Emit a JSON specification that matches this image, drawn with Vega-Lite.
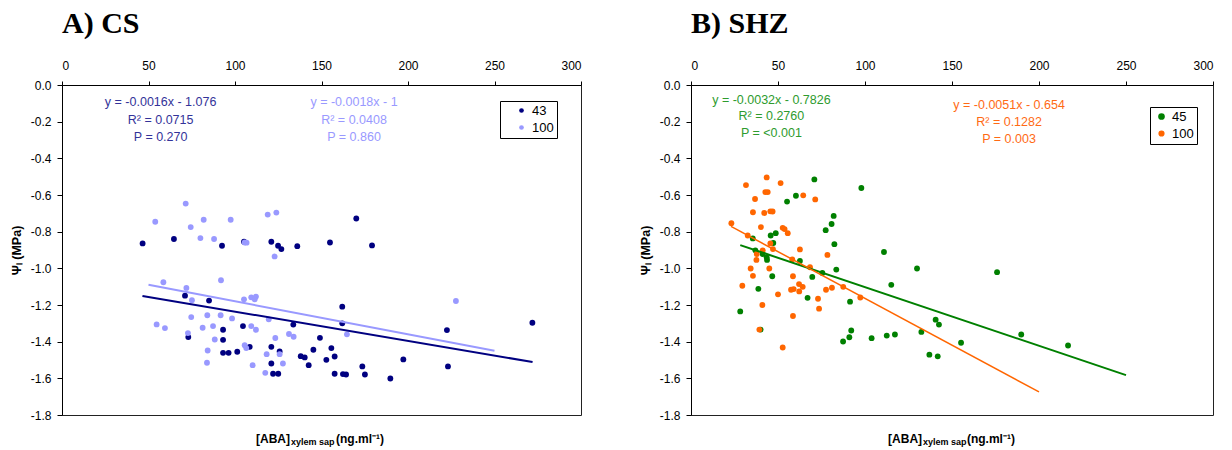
{
  "$schema": "https://vega.github.io/schema/vega-lite/v6.json",
  "background": "white",
  "padding": {"left": 9, "top": 8, "right": 5, "bottom": 2},
  "config": {
    "font": "Liberation Sans",
    "view": {"stroke": "#222", "strokeWidth": 1},
    "axis": {
      "grid": false,
      "domainColor": "#000",
      "tickColor": "#000",
      "labelColor": "#000",
      "titleColor": "#000",
      "labelFont": "Liberation Sans",
      "titleFont": "Liberation Sans",
      "labelFontSize": 12,
      "tickSize": 5,
      "labelOverlap": false
    },
    "axisX": {"orient": "top", "tickCount": 6, "title": null, "tickSize": 4, "labelPadding": 9, "labelOverlap": false},
    "axisY": {"tickCount": 9, "labelExpr": "replace(format(datum.value, '.1f'), '\u2212', '-')", "labelOverlap": false, "labelBound": false, "labelPadding": 6, "titleFontWeight": "bold", "titleFontSize": 12.5, "titlePadding": 7}
  },
  "datasets": {
    "cs": [
      {"aba": 46.6, "psi": -0.864, "group": "43"}, {"aba": 64.7, "psi": -0.84, "group": "43"},
      {"aba": 92.5, "psi": -0.877, "group": "43"}, {"aba": 105.2, "psi": -0.855, "group": "43"},
      {"aba": 121, "psi": -0.855, "group": "43"}, {"aba": 124.9, "psi": -0.877, "group": "43"},
      {"aba": 126.8, "psi": -0.895, "group": "43"}, {"aba": 136, "psi": -0.879, "group": "43"},
      {"aba": 71.1, "psi": -1.149, "group": "43"}, {"aba": 85, "psi": -1.176, "group": "43"},
      {"aba": 73, "psi": -1.375, "group": "43"}, {"aba": 93.1, "psi": -1.335, "group": "43"},
      {"aba": 93.1, "psi": -1.39, "group": "43"}, {"aba": 93.1, "psi": -1.461, "group": "43"},
      {"aba": 96.3, "psi": -1.461, "group": "43"}, {"aba": 101.3, "psi": -1.455, "group": "43"},
      {"aba": 104.6, "psi": -1.315, "group": "43"}, {"aba": 108.5, "psi": -1.428, "group": "43"},
      {"aba": 121, "psi": -1.428, "group": "43"}, {"aba": 121, "psi": -1.519, "group": "43"},
      {"aba": 122, "psi": -1.575, "group": "43"}, {"aba": 125, "psi": -1.575, "group": "43"},
      {"aba": 125.8, "psi": -1.453, "group": "43"}, {"aba": 133.7, "psi": -1.307, "group": "43"},
      {"aba": 138, "psi": -1.479, "group": "43"}, {"aba": 140.3, "psi": -1.486, "group": "43"},
      {"aba": 142.6, "psi": -1.528, "group": "43"}, {"aba": 154.9, "psi": -0.859, "group": "43"},
      {"aba": 170.1, "psi": -0.728, "group": "43"}, {"aba": 179.2, "psi": -0.875, "group": "43"},
      {"aba": 162, "psi": -1.209, "group": "43"}, {"aba": 162, "psi": -1.3, "group": "43"},
      {"aba": 149.1, "psi": -1.379, "group": "43"}, {"aba": 145.3, "psi": -1.444, "group": "43"},
      {"aba": 155.7, "psi": -1.435, "group": "43"}, {"aba": 152.8, "psi": -1.499, "group": "43"},
      {"aba": 157.6, "psi": -1.481, "group": "43"}, {"aba": 157.6, "psi": -1.575, "group": "43"},
      {"aba": 162.4, "psi": -1.577, "group": "43"}, {"aba": 164.2, "psi": -1.579, "group": "43"},
      {"aba": 173.6, "psi": -1.535, "group": "43"}, {"aba": 175.1, "psi": -1.579, "group": "43"},
      {"aba": 189.8, "psi": -1.601, "group": "43"}, {"aba": 197.3, "psi": -1.497, "group": "43"},
      {"aba": 222.5, "psi": -1.337, "group": "43"}, {"aba": 223.1, "psi": -1.535, "group": "43"},
      {"aba": 271.9, "psi": -1.297, "group": "43"},
      {"aba": 53.9, "psi": -0.746, "group": "100"}, {"aba": 71.5, "psi": -0.647, "group": "100"},
      {"aba": 74.4, "psi": -0.775, "group": "100"}, {"aba": 81.9, "psi": -0.735, "group": "100"},
      {"aba": 80, "psi": -0.835, "group": "100"}, {"aba": 87.9, "psi": -0.84, "group": "100"},
      {"aba": 97.5, "psi": -0.735, "group": "100"}, {"aba": 118.9, "psi": -0.707, "group": "100"},
      {"aba": 123.9, "psi": -0.696, "group": "100"}, {"aba": 105.6, "psi": -0.859, "group": "100"},
      {"aba": 106.7, "psi": -0.86, "group": "100"}, {"aba": 58.6, "psi": -1.076, "group": "100"},
      {"aba": 71.9, "psi": -1.107, "group": "100"}, {"aba": 75.1, "psi": -1.174, "group": "100"},
      {"aba": 91.9, "psi": -1.065, "group": "100"}, {"aba": 54.7, "psi": -1.306, "group": "100"},
      {"aba": 59.5, "psi": -1.326, "group": "100"}, {"aba": 72.8, "psi": -1.353, "group": "100"},
      {"aba": 74.7, "psi": -1.266, "group": "100"}, {"aba": 81.3, "psi": -1.324, "group": "100"},
      {"aba": 84, "psi": -1.256, "group": "100"}, {"aba": 87.3, "psi": -1.315, "group": "100"},
      {"aba": 91.7, "psi": -1.256, "group": "100"}, {"aba": 88.3, "psi": -1.388, "group": "100"},
      {"aba": 84.2, "psi": -1.448, "group": "100"}, {"aba": 83.8, "psi": -1.515, "group": "100"},
      {"aba": 98.3, "psi": -1.273, "group": "100"}, {"aba": 105.2, "psi": -1.169, "group": "100"},
      {"aba": 109.4, "psi": -1.158, "group": "100"}, {"aba": 112.1, "psi": -1.154, "group": "100"},
      {"aba": 111.4, "psi": -1.169, "group": "100"}, {"aba": 109.4, "psi": -1.315, "group": "100"},
      {"aba": 112.1, "psi": -1.335, "group": "100"}, {"aba": 105.6, "psi": -1.419, "group": "100"},
      {"aba": 106.5, "psi": -1.435, "group": "100"}, {"aba": 110.2, "psi": -1.528, "group": "100"},
      {"aba": 119.5, "psi": -1.278, "group": "100"}, {"aba": 117.5, "psi": -1.57, "group": "100"},
      {"aba": 118.3, "psi": -1.468, "group": "100"}, {"aba": 123.3, "psi": -1.38, "group": "100"},
      {"aba": 125.8, "psi": -1.468, "group": "100"}, {"aba": 127.7, "psi": -1.519, "group": "100"},
      {"aba": 122.9, "psi": -0.935, "group": "100"}, {"aba": 131.2, "psi": -1.358, "group": "100"},
      {"aba": 133.9, "psi": -1.373, "group": "100"}, {"aba": 164.7, "psi": -1.36, "group": "100"},
      {"aba": 227.7, "psi": -1.178, "group": "100"}
    ],
    "csFit": [
      {"aba": 46.5, "psi": -1.1504, "group": "43"}, {"aba": 272, "psi": -1.5112, "group": "43"},
      {"aba": 50, "psi": -1.09, "group": "100"}, {"aba": 250, "psi": -1.45, "group": "100"}
    ],
    "shz": [
      {"aba": 35.5, "psi": -0.837, "group": "45"}, {"aba": 37, "psi": -0.902, "group": "45"},
      {"aba": 41.2, "psi": -0.922, "group": "45"}, {"aba": 43.5, "psi": -0.94, "group": "45"},
      {"aba": 43.7, "psi": -0.954, "group": "45"}, {"aba": 45.8, "psi": -0.821, "group": "45"},
      {"aba": 48.7, "psi": -0.808, "group": "45"}, {"aba": 47.3, "psi": -0.862, "group": "45"},
      {"aba": 46.7, "psi": -1.043, "group": "45"}, {"aba": 38.7, "psi": -1.112, "group": "45"},
      {"aba": 28.3, "psi": -1.235, "group": "45"}, {"aba": 40, "psi": -1.334, "group": "45"},
      {"aba": 55.2, "psi": -0.636, "group": "45"}, {"aba": 60.3, "psi": -0.604, "group": "45"},
      {"aba": 70.9, "psi": -0.515, "group": "45"}, {"aba": 97.9, "psi": -0.562, "group": "45"},
      {"aba": 82, "psi": -0.714, "group": "45"}, {"aba": 80.8, "psi": -0.758, "group": "45"},
      {"aba": 77.4, "psi": -0.792, "group": "45"}, {"aba": 82.4, "psi": -0.868, "group": "45"},
      {"aba": 62.6, "psi": -0.96, "group": "45"}, {"aba": 67, "psi": -1.161, "group": "45"},
      {"aba": 69.7, "psi": -1.047, "group": "45"}, {"aba": 75.5, "psi": -1.025, "group": "45"},
      {"aba": 83.5, "psi": -1.007, "group": "45"}, {"aba": 91.4, "psi": -1.182, "group": "45"},
      {"aba": 87.4, "psi": -1.399, "group": "45"}, {"aba": 91, "psi": -1.376, "group": "45"},
      {"aba": 92.1, "psi": -1.339, "group": "45"}, {"aba": 103.8, "psi": -1.381, "group": "45"},
      {"aba": 112.5, "psi": -1.367, "group": "45"}, {"aba": 117.2, "psi": -1.361, "group": "45"},
      {"aba": 110.9, "psi": -0.911, "group": "45"}, {"aba": 115.1, "psi": -1.09, "group": "45"},
      {"aba": 129.9, "psi": -1.001, "group": "45"}, {"aba": 132.4, "psi": -1.347, "group": "45"},
      {"aba": 137, "psi": -1.471, "group": "45"}, {"aba": 175.9, "psi": -1.021, "group": "45"},
      {"aba": 140.6, "psi": -1.28, "group": "45"}, {"aba": 142.5, "psi": -1.307, "group": "45"},
      {"aba": 141.8, "psi": -1.48, "group": "45"}, {"aba": 155.2, "psi": -1.406, "group": "45"},
      {"aba": 189.8, "psi": -1.361, "group": "45"}, {"aba": 216.7, "psi": -1.421, "group": "45"},
      {"aba": 31.6, "psi": -0.546, "group": "100"}, {"aba": 43.5, "psi": -0.504, "group": "100"},
      {"aba": 51.5, "psi": -0.535, "group": "100"}, {"aba": 36.8, "psi": -0.622, "group": "100"},
      {"aba": 42.7, "psi": -0.584, "group": "100"}, {"aba": 44.1, "psi": -0.584, "group": "100"},
      {"aba": 64.5, "psi": -0.602, "group": "100"}, {"aba": 71.4, "psi": -0.624, "group": "100"},
      {"aba": 35.6, "psi": -0.694, "group": "100"}, {"aba": 42.1, "psi": -0.698, "group": "100"},
      {"aba": 45.6, "psi": -0.689, "group": "100"}, {"aba": 46.9, "psi": -0.69, "group": "100"},
      {"aba": 40.2, "psi": -0.775, "group": "100"}, {"aba": 52.7, "psi": -0.779, "group": "100"},
      {"aba": 53.8, "psi": -0.786, "group": "100"}, {"aba": 55.6, "psi": -0.808, "group": "100"},
      {"aba": 23.2, "psi": -0.754, "group": "100"}, {"aba": 32.6, "psi": -0.821, "group": "100"},
      {"aba": 45.6, "psi": -0.864, "group": "100"}, {"aba": 41.2, "psi": -0.902, "group": "100"},
      {"aba": 37.8, "psi": -0.922, "group": "100"}, {"aba": 37.6, "psi": -0.954, "group": "100"},
      {"aba": 47.1, "psi": -0.895, "group": "100"}, {"aba": 34.3, "psi": -1.001, "group": "100"},
      {"aba": 45, "psi": -1.001, "group": "100"}, {"aba": 35.6, "psi": -1.041, "group": "100"},
      {"aba": 29.5, "psi": -1.095, "group": "100"}, {"aba": 41, "psi": -1.2, "group": "100"},
      {"aba": 39.3, "psi": -1.334, "group": "100"}, {"aba": 52.7, "psi": -1.432, "group": "100"},
      {"aba": 50, "psi": -1.142, "group": "100"}, {"aba": 58.2, "psi": -0.951, "group": "100"},
      {"aba": 62.6, "psi": -0.897, "group": "100"}, {"aba": 58.6, "psi": -1.043, "group": "100"},
      {"aba": 57.5, "psi": -1.117, "group": "100"}, {"aba": 59, "psi": -1.113, "group": "100"},
      {"aba": 62.1, "psi": -1.086, "group": "100"}, {"aba": 64.2, "psi": -1.101, "group": "100"},
      {"aba": 62.2, "psi": -1.126, "group": "100"}, {"aba": 58.6, "psi": -1.26, "group": "100"},
      {"aba": 68.4, "psi": -0.994, "group": "100"}, {"aba": 73, "psi": -1.166, "group": "100"},
      {"aba": 73.6, "psi": -1.22, "group": "100"}, {"aba": 77.6, "psi": -1.117, "group": "100"},
      {"aba": 78.4, "psi": -0.927, "group": "100"}, {"aba": 81, "psi": -1.106, "group": "100"},
      {"aba": 87.5, "psi": -1.101, "group": "100"}, {"aba": 97.3, "psi": -1.159, "group": "100"}
    ],
    "shzFit": [
      {"aba": 28.3, "psi": -0.8732, "group": "45"}, {"aba": 250, "psi": -1.5826, "group": "45"},
      {"aba": 23, "psi": -0.7713, "group": "100"}, {"aba": 200, "psi": -1.674, "group": "100"}
    ],
    "one": [{}]
  },
  "spacing": 56,
  "resolve": {"scale": {"color": "independent", "x": "independent", "y": "independent", "strokeWidth": "independent"}},
  "hconcat": [
    {
      "title": {"text": "A) CS", "anchor": "start", "frame": "group", "font": "Liberation Serif", "fontSize": 30, "fontWeight": "bold", "color": "#000", "offset": 20},
      "width": 519,
      "height": 330,
      "layer": [
        {
          "data": {"name": "cs"},
          "mark": {"type": "circle", "size": 34, "opacity": 1},
          "encoding": {
            "x": {"field": "aba", "type": "quantitative", "scale": {"domain": [0, 300], "nice": false}, "axis": {"title": null}},
            "y": {"field": "psi", "type": "quantitative", "scale": {"domain": [-1.8, 0], "nice": false}, "axis": {"title": "Ψₗ (MPa)"}},
            "color": {"field": "group", "type": "nominal",
                      "scale": {"domain": ["43", "100"], "range": ["#000080", "#9999FF"]},
                      "legend": {"title": null, "orient": "none", "legendX": 438, "legendY": 16,
                                 "strokeColor": "#000", "fillColor": "#fff", "padding": 3,
                                 "symbolType": "circle", "symbolSize": 22, "symbolStrokeWidth": 0,
                                 "symbolOffset": 12, "labelOffset": 4, "rowPadding": 3,
                                 "labelFontSize": 13, "labelColor": "#000", "labelFont": "Liberation Sans",
                                 "labelExpr": "datum.label + '\u00a0\u00a0\u00a0'"}}
          }
        },
        {
          "data": {"name": "csFit"},
          "mark": {"type": "line", "strokeWidth": 2},
          "encoding": {
            "x": {"field": "aba", "type": "quantitative", "axis": {"title": null}},
            "y": {"field": "psi", "type": "quantitative", "axis": {"title": "Ψₗ (MPa)"}},
            "color": {"field": "group", "type": "nominal", "legend": null}
          }
        },
        {
          "data": {"name": "one"},
          "mark": {"type": "text", "text": ["y = -0.0016x - 1.076", "R² = 0.0715", "P = 0.270"],
                   "align": "center", "baseline": "middle", "lineHeight": 17.3, "fontSize": 12.5, "color": "#333399"},
          "encoding": {"x": {"datum": 57, "type": "quantitative", "axis": {"title": null}}, "y": {"datum": -0.095, "type": "quantitative", "axis": {"title": "Ψₗ (MPa)"}}}
        },
        {
          "data": {"name": "one"},
          "mark": {"type": "text", "text": ["y = -0.0018x - 1", "R² = 0.0408", "P = 0.860"],
                   "align": "center", "baseline": "middle", "lineHeight": 17.3, "fontSize": 12.5, "color": "#9999FF"},
          "encoding": {"x": {"datum": 168.8, "type": "quantitative", "axis": {"title": null}}, "y": {"datum": -0.095, "type": "quantitative", "axis": {"title": "Ψₗ (MPa)"}}}
        },
        {
          "data": {"name": "one"},
          "mark": {"type": "text", "text": "[ABA]", "align": "right", "baseline": "alphabetic", "fontSize": 12, "fontWeight": "bold", "color": "#000"},
          "encoding": {"x": {"datum": 131.8, "type": "quantitative", "axis": {"title": null}}, "y": {"datum": -1.95, "type": "quantitative", "axis": {"title": "Ψₗ (MPa)"}}}
        },
        {
          "data": {"name": "one"},
          "mark": {"type": "text", "text": "xylem sap", "align": "left", "baseline": "alphabetic", "fontSize": 9, "fontWeight": "bold", "color": "#000"},
          "encoding": {"x": {"datum": 132.3, "type": "quantitative", "axis": {"title": null}}, "y": {"datum": -1.964, "type": "quantitative", "axis": {"title": "Ψₗ (MPa)"}}}
        },
        {
          "data": {"name": "one"},
          "mark": {"type": "text", "text": "(ng.ml⁻¹)", "align": "left", "baseline": "alphabetic", "fontSize": 12, "fontWeight": "bold", "color": "#000"},
          "encoding": {"x": {"datum": 158.4, "type": "quantitative", "axis": {"title": null}}, "y": {"datum": -1.95, "type": "quantitative", "axis": {"title": "Ψₗ (MPa)"}}}
        }
      ]
    },
    {
      "title": {"text": "B) SHZ", "anchor": "start", "frame": "group", "font": "Liberation Serif", "fontSize": 30, "fontWeight": "bold", "color": "#000", "offset": 20},
      "width": 522,
      "height": 330,
      "layer": [
        {
          "data": {"name": "shz"},
          "mark": {"type": "circle", "size": 34, "opacity": 1},
          "encoding": {
            "x": {"field": "aba", "type": "quantitative", "scale": {"domain": [0, 300], "nice": false}, "axis": {"title": null}},
            "y": {"field": "psi", "type": "quantitative", "scale": {"domain": [-1.8, 0], "nice": false}, "axis": {"title": "Ψₗ (MPa)"}},
            "color": {"field": "group", "type": "nominal",
                      "scale": {"domain": ["45", "100"], "range": ["#008000", "#FF6600"]},
                      "legend": {"title": null, "orient": "none", "legendX": 459, "legendY": 22,
                                 "strokeColor": "#000", "fillColor": "#fff", "padding": 3,
                                 "symbolType": "circle", "symbolSize": 22, "symbolStrokeWidth": 0,
                                 "symbolOffset": 2, "labelOffset": 4, "rowPadding": 3,
                                 "labelFontSize": 13, "labelColor": "#000", "labelFont": "Liberation Sans"}}
          }
        },
        {
          "data": {"name": "shzFit"},
          "mark": {"type": "line"},
          "encoding": {
            "x": {"field": "aba", "type": "quantitative", "axis": {"title": null}},
            "y": {"field": "psi", "type": "quantitative", "axis": {"title": "Ψₗ (MPa)"}},
            "color": {"field": "group", "type": "nominal", "legend": null},
            "strokeWidth": {"field": "group", "type": "nominal", "scale": {"domain": ["45", "100"], "range": [2, 1.5]}, "legend": null}
          }
        },
        {
          "data": {"name": "one"},
          "mark": {"type": "text", "text": ["y = -0.0032x - 0.7826", "R² = 0.2760", "P = <0.001"],
                   "align": "center", "baseline": "middle", "lineHeight": 16.7, "fontSize": 12.5, "color": "#2E9B2E"},
          "encoding": {"x": {"datum": 46.2, "type": "quantitative", "axis": {"title": null}}, "y": {"datum": -0.08, "type": "quantitative", "axis": {"title": "Ψₗ (MPa)"}}}
        },
        {
          "data": {"name": "one"},
          "mark": {"type": "text", "text": ["y = -0.0051x - 0.654", "R² = 0.1282", "P = 0.003"],
                   "align": "center", "baseline": "middle", "lineHeight": 17, "fontSize": 12.5, "color": "#FF6A14"},
          "encoding": {"x": {"datum": 182.8, "type": "quantitative", "axis": {"title": null}}, "y": {"datum": -0.108, "type": "quantitative", "axis": {"title": "Ψₗ (MPa)"}}}
        },
        {
          "data": {"name": "one"},
          "mark": {"type": "text", "text": "[ABA]", "align": "right", "baseline": "alphabetic", "fontSize": 12, "fontWeight": "bold", "color": "#000"},
          "encoding": {"x": {"datum": 132.8, "type": "quantitative", "axis": {"title": null}}, "y": {"datum": -1.95, "type": "quantitative", "axis": {"title": "Ψₗ (MPa)"}}}
        },
        {
          "data": {"name": "one"},
          "mark": {"type": "text", "text": "xylem sap", "align": "left", "baseline": "alphabetic", "fontSize": 9, "fontWeight": "bold", "color": "#000"},
          "encoding": {"x": {"datum": 133.3, "type": "quantitative", "axis": {"title": null}}, "y": {"datum": -1.964, "type": "quantitative", "axis": {"title": "Ψₗ (MPa)"}}}
        },
        {
          "data": {"name": "one"},
          "mark": {"type": "text", "text": "(ng.ml⁻¹)", "align": "left", "baseline": "alphabetic", "fontSize": 12, "fontWeight": "bold", "color": "#000"},
          "encoding": {"x": {"datum": 158.6, "type": "quantitative", "axis": {"title": null}}, "y": {"datum": -1.95, "type": "quantitative", "axis": {"title": "Ψₗ (MPa)"}}}
        }
      ]
    }
  ]
}
